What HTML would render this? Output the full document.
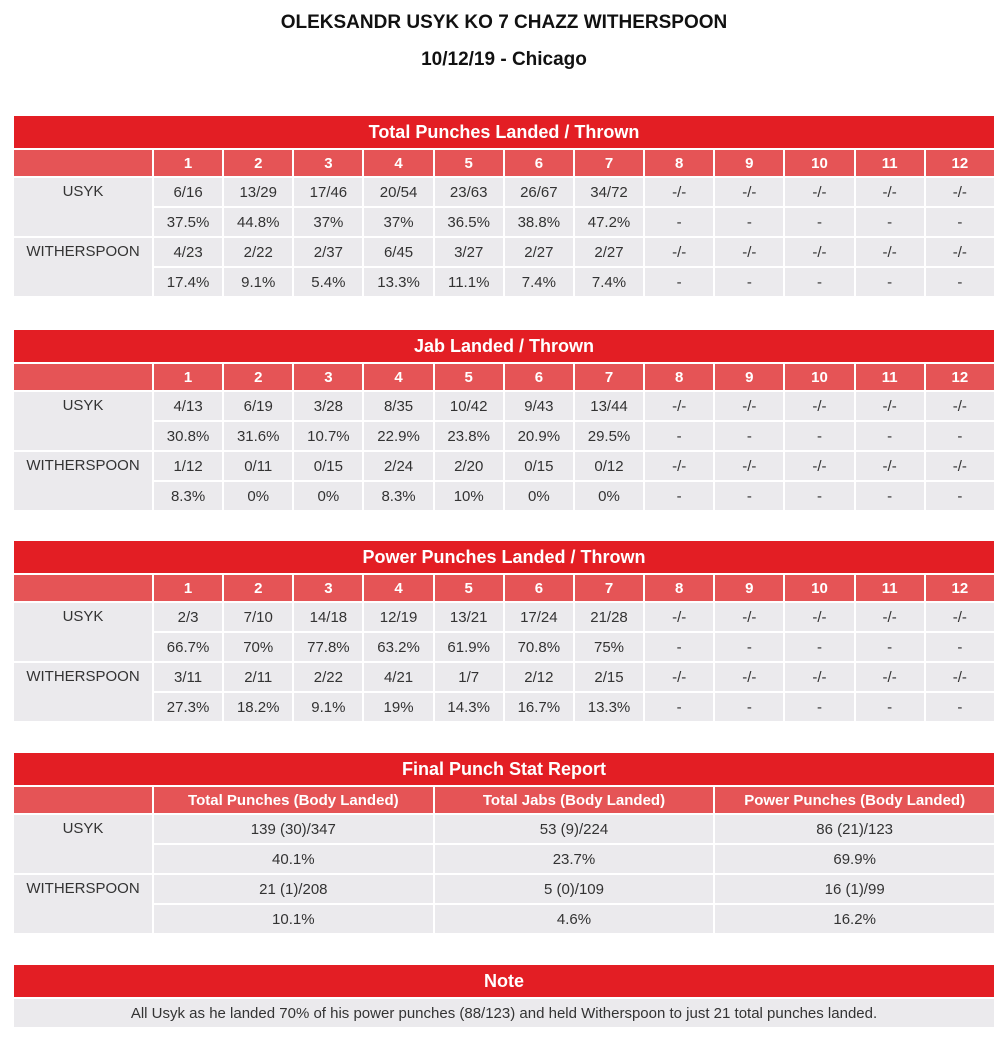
<!DOCTYPE html>
<html><head><meta charset="utf-8"><style>
body{margin:0;width:1008px;height:1042px;background:#fff;font-family:"Liberation Sans",sans-serif;position:relative;overflow:hidden;color:#333}
.h1{position:absolute;left:0;width:1008px;text-align:center;font-weight:bold;font-size:19px;color:#111}
table{position:absolute;left:12px;width:984px;border-collapse:collapse;table-layout:fixed}
td{border:2px solid #fff;text-align:center;font-size:15px;padding:0;background:#ebeaed;color:#333}
tr.t td{background:#e31e24;color:#fff;font-weight:bold;font-size:18px;height:32px;border-top:0}
tr.hd td{background:#e55456;color:#fff;font-weight:bold;font-size:15px;height:26px}
tr.r td{height:28px}
td.n{vertical-align:top;padding-top:5px;font-size:15px}
</style></head><body>
<div class="h1" style="top:12px">OLEKSANDR USYK KO 7 CHAZZ WITHERSPOON</div>
<div class="h1" style="top:49px">10/12/19 - Chicago</div>

<table style="top:116px"><colgroup><col style="width:140px"><col span="12"></colgroup>
<tr class="t"><td colspan="13">Total Punches Landed / Thrown</td></tr>
<tr class="hd"><td></td><td>1</td><td>2</td><td>3</td><td>4</td><td>5</td><td>6</td><td>7</td><td>8</td><td>9</td><td>10</td><td>11</td><td>12</td></tr>
<tr class="r"><td class="n" rowspan="2">USYK</td><td>6/16</td><td>13/29</td><td>17/46</td><td>20/54</td><td>23/63</td><td>26/67</td><td>34/72</td><td>-/-</td><td>-/-</td><td>-/-</td><td>-/-</td><td>-/-</td></tr>
<tr class="r"><td>37.5%</td><td>44.8%</td><td>37%</td><td>37%</td><td>36.5%</td><td>38.8%</td><td>47.2%</td><td>-</td><td>-</td><td>-</td><td>-</td><td>-</td></tr>
<tr class="r"><td class="n" rowspan="2">WITHERSPOON</td><td>4/23</td><td>2/22</td><td>2/37</td><td>6/45</td><td>3/27</td><td>2/27</td><td>2/27</td><td>-/-</td><td>-/-</td><td>-/-</td><td>-/-</td><td>-/-</td></tr>
<tr class="r"><td>17.4%</td><td>9.1%</td><td>5.4%</td><td>13.3%</td><td>11.1%</td><td>7.4%</td><td>7.4%</td><td>-</td><td>-</td><td>-</td><td>-</td><td>-</td></tr>
</table>

<table style="top:330px"><colgroup><col style="width:140px"><col span="12"></colgroup>
<tr class="t"><td colspan="13">Jab Landed / Thrown</td></tr>
<tr class="hd"><td></td><td>1</td><td>2</td><td>3</td><td>4</td><td>5</td><td>6</td><td>7</td><td>8</td><td>9</td><td>10</td><td>11</td><td>12</td></tr>
<tr class="r"><td class="n" rowspan="2">USYK</td><td>4/13</td><td>6/19</td><td>3/28</td><td>8/35</td><td>10/42</td><td>9/43</td><td>13/44</td><td>-/-</td><td>-/-</td><td>-/-</td><td>-/-</td><td>-/-</td></tr>
<tr class="r"><td>30.8%</td><td>31.6%</td><td>10.7%</td><td>22.9%</td><td>23.8%</td><td>20.9%</td><td>29.5%</td><td>-</td><td>-</td><td>-</td><td>-</td><td>-</td></tr>
<tr class="r"><td class="n" rowspan="2">WITHERSPOON</td><td>1/12</td><td>0/11</td><td>0/15</td><td>2/24</td><td>2/20</td><td>0/15</td><td>0/12</td><td>-/-</td><td>-/-</td><td>-/-</td><td>-/-</td><td>-/-</td></tr>
<tr class="r"><td>8.3%</td><td>0%</td><td>0%</td><td>8.3%</td><td>10%</td><td>0%</td><td>0%</td><td>-</td><td>-</td><td>-</td><td>-</td><td>-</td></tr>
</table>

<table style="top:541px"><colgroup><col style="width:140px"><col span="12"></colgroup>
<tr class="t"><td colspan="13">Power Punches Landed / Thrown</td></tr>
<tr class="hd"><td></td><td>1</td><td>2</td><td>3</td><td>4</td><td>5</td><td>6</td><td>7</td><td>8</td><td>9</td><td>10</td><td>11</td><td>12</td></tr>
<tr class="r"><td class="n" rowspan="2">USYK</td><td>2/3</td><td>7/10</td><td>14/18</td><td>12/19</td><td>13/21</td><td>17/24</td><td>21/28</td><td>-/-</td><td>-/-</td><td>-/-</td><td>-/-</td><td>-/-</td></tr>
<tr class="r"><td>66.7%</td><td>70%</td><td>77.8%</td><td>63.2%</td><td>61.9%</td><td>70.8%</td><td>75%</td><td>-</td><td>-</td><td>-</td><td>-</td><td>-</td></tr>
<tr class="r"><td class="n" rowspan="2">WITHERSPOON</td><td>3/11</td><td>2/11</td><td>2/22</td><td>4/21</td><td>1/7</td><td>2/12</td><td>2/15</td><td>-/-</td><td>-/-</td><td>-/-</td><td>-/-</td><td>-/-</td></tr>
<tr class="r"><td>27.3%</td><td>18.2%</td><td>9.1%</td><td>19%</td><td>14.3%</td><td>16.7%</td><td>13.3%</td><td>-</td><td>-</td><td>-</td><td>-</td><td>-</td></tr>
</table>

<table style="top:753px"><colgroup><col style="width:140px"><col span="3"></colgroup>
<tr class="t"><td colspan="4">Final Punch Stat Report</td></tr>
<tr class="hd"><td></td><td>Total Punches (Body Landed)</td><td>Total Jabs (Body Landed)</td><td>Power Punches (Body Landed)</td></tr>
<tr class="r"><td class="n" rowspan="2">USYK</td><td>139 (30)/347</td><td>53 (9)/224</td><td>86 (21)/123</td></tr>
<tr class="r"><td>40.1%</td><td>23.7%</td><td>69.9%</td></tr>
<tr class="r"><td class="n" rowspan="2">WITHERSPOON</td><td>21 (1)/208</td><td>5 (0)/109</td><td>16 (1)/99</td></tr>
<tr class="r"><td>10.1%</td><td>4.6%</td><td>16.2%</td></tr>
</table>

<table style="top:965px">
<tr class="t"><td>Note</td></tr>
<tr class="r"><td style="height:28px">All Usyk as he landed 70% of his power punches (88/123) and held Witherspoon to just 21 total punches landed.</td></tr>
</table>
</body></html>
